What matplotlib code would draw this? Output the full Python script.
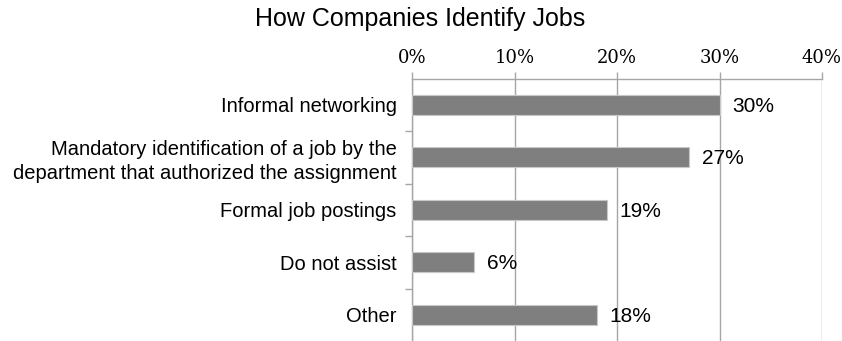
import matplotlib
matplotlib.use("Agg")
import matplotlib.pyplot as plt
from matplotlib.ticker import FuncFormatter

title = "How Companies Identify Jobs"
categories = [
    "Informal networking",
    "Mandatory identification of a job by the\ndepartment that authorized the assignment",
    "Formal job postings",
    "Do not assist",
    "Other",
]
values = [30, 27, 19, 6, 18]
xticks = [0, 10, 20, 30, 40]

fig = plt.figure(figsize=(8.42, 3.41), dpi=100)
ax = fig.add_axes([412/842, 0.0, 410/842, 1 - 78.5/341])

y = list(range(len(categories)))
ax.barh(y, values, height=0.38, color="#7f7f7f", edgecolor="#c8c8c8", linewidth=0.8, zorder=3)
ax.set_ylim(len(categories) - 0.5, -0.5)
ax.set_xlim(0, 40)

ax.xaxis.tick_top()
ax.set_xticks(xticks)
ax.xaxis.set_major_formatter(FuncFormatter(lambda v, p: f"{v:.0f}%"))
for lbl in ax.get_xticklabels():
    lbl.set_fontfamily("DejaVu Serif")
    lbl.set_fontsize(13)
ax.tick_params(axis="x", length=5, width=1, color="#a6a6a6", pad=3)
ax.grid(axis="x", color="#a6a6a6", linewidth=1, zorder=0)

ax.set_yticks(y)
ax.set_yticklabels(categories, fontfamily="Liberation Sans", fontsize=14.5, linespacing=1.3)
ax.set_yticks([i + 0.5 for i in range(len(categories) - 1)], minor=True)
ax.tick_params(axis="y", which="major", length=0, pad=11)
ax.tick_params(axis="y", which="minor", length=5, width=1, color="#a6a6a6")

for s in ["right", "bottom"]:
    ax.spines[s].set_visible(False)
for s in ["left", "top"]:
    ax.spines[s].set_color("#a6a6a6")
    ax.spines[s].set_linewidth(1)

for yi, v in zip(y, values):
    ax.annotate(f"{v}%", (v, yi), xytext=(13, -1.5), textcoords="offset pixels",
                va="center", ha="left", fontfamily="Liberation Sans", fontsize=15, zorder=4)

fig.text(420/842, 1 - 19/341, title, ha="center", va="center",
         fontfamily="Liberation Sans", fontsize=18)

fig.savefig("out.png", dpi=100)
